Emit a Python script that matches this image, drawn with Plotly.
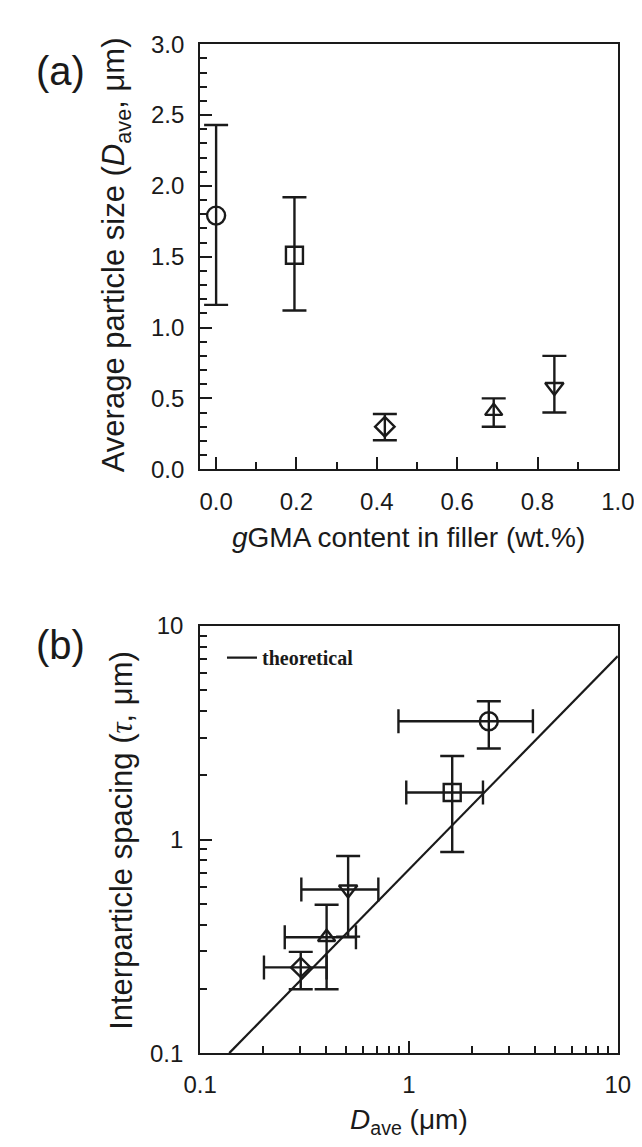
import plotly.graph_objects as go

# ---------------- Panel (a) data ----------------
gGMA_content = [0.0, 0.195, 0.42, 0.691, 0.842]
D_ave = [1.79, 1.51, 0.30, 0.41, 0.58]
D_ave_hi = [2.43, 1.92, 0.39, 0.50, 0.80]
D_ave_lo = [1.16, 1.12, 0.205, 0.30, 0.40]
symbols = ["circle-open", "square-open", "diamond-open", "triangle-up-open", "triangle-down-open"]
sizes = [18, 17, 15, 15, 16]

# ---------------- Panel (b) data ----------------
Db = [2.41, 1.61, 0.303, 0.403, 0.511]
Db_lo = [0.89, 0.97, 0.202, 0.254, 0.305]
Db_hi = [3.92, 2.26, 0.403, 0.557, 0.713]
tau = [3.58, 1.66, 0.252, 0.349, 0.584]
tau_hi = [4.44, 2.46, 0.298, 0.495, 0.838]
tau_lo = [2.67, 0.875, 0.199, 0.199, 0.351]

theory_D = [0.1377, 10.0]
theory_tau = [0.1, 7.23]

a_xticks = [0.0, 0.2, 0.4, 0.6, 0.8, 1.0]
a_yticks = [0.0, 0.5, 1.0, 1.5, 2.0, 2.5, 3.0]
b_ticks = [0.1, 1, 10]
b_ticktext = ["0.1", "1", "10"]

W, H = 642, 1147
INK = "#1a1a1a"
SANS = "Liberation Sans, Arial, sans-serif"
SERIF = "Liberation Serif, Times New Roman, serif"

fig = go.Figure()

for i in range(len(gGMA_content)):
    fig.add_trace(go.Scatter(
        x=[gGMA_content[i]], y=[D_ave[i]], mode="markers",
        marker=dict(symbol=symbols[i], size=sizes[i], color=INK, line=dict(width=2.4, color=INK)),
        error_y=dict(type="data", symmetric=False,
                     array=[D_ave_hi[i] - D_ave[i]], arrayminus=[D_ave[i] - D_ave_lo[i]],
                     color=INK, thickness=2.4, width=12),
        xaxis="x", yaxis="y", showlegend=False, cliponaxis=False))

fig.add_trace(go.Scatter(
    x=theory_D, y=theory_tau, mode="lines", name="theoretical",
    line=dict(color=INK, width=2.2), xaxis="x2", yaxis="y2", showlegend=True))

for i in range(len(Db)):
    fig.add_trace(go.Scatter(
        x=[Db[i]], y=[tau[i]], mode="markers",
        marker=dict(symbol=symbols[i], size=sizes[i], color=INK, line=dict(width=2.4, color=INK)),
        error_y=dict(type="data", symmetric=False,
                     array=[tau_hi[i] - tau[i]], arrayminus=[tau[i] - tau_lo[i]],
                     color=INK, thickness=2.4, width=12),
        error_x=dict(type="data", symmetric=False,
                     array=[Db_hi[i] - Db[i]], arrayminus=[Db[i] - Db_lo[i]],
                     color=INK, thickness=2.4, width=12),
        xaxis="x2", yaxis="y2", showlegend=False, cliponaxis=False))

x_dom = [185 / W, 626 / W]
a_dom = [1 - 458 / H, 1 - 22.7 / H]
b_dom = [1 - 1056 / H, 1 - 618.5 / H]

axis_common = dict(showline=True, linecolor=INK, linewidth=2, mirror=True,
                   ticks="inside", ticklen=12, tickwidth=2, tickcolor=INK,
                   showgrid=False, zeroline=False,
                   tickfont=dict(family=SANS, size=24, color=INK))

log_minor = [m * 10 ** e for e in (-1, 0) for m in range(2, 10)]
minor_lin = dict(dtick=0.1, ticks="inside", ticklen=7, tickwidth=2, tickcolor=INK)
minor_log = dict(tickmode="array", tickvals=log_minor, ticks="inside", ticklen=7,
                 tickwidth=2, tickcolor=INK)

fig.update_layout(
    width=W, height=H,
    margin=dict(l=0, r=0, t=0, b=0),
    paper_bgcolor="white", plot_bgcolor="white",
    xaxis=dict(domain=x_dom, anchor="y", range=[-0.0396, 1.0],
               tickmode="array", tickvals=a_xticks, ticktext=[f"{v:.1f}" for v in a_xticks],
               minor=minor_lin, ticklabelstandoff=10, **axis_common),
    yaxis=dict(domain=a_dom, anchor="x", range=[0, 3.0],
               tickmode="array", tickvals=a_yticks, ticktext=[f"{v:.1f}" for v in a_yticks],
               minor=minor_lin, ticklabelstandoff=9, **axis_common),
    xaxis2=dict(domain=x_dom, anchor="y2", type="log", range=[-1, 1],
                tickmode="array", tickvals=b_ticks, ticktext=b_ticktext,
                minor=minor_log, ticklabelstandoff=9, **axis_common),
    yaxis2=dict(domain=b_dom, anchor="x2", type="log", range=[-1, 1],
                tickmode="array", tickvals=b_ticks, ticktext=b_ticktext,
                minor=minor_log, ticklabelstandoff=10, **axis_common),
    legend=dict(x=208 / W, y=1 - 651 / H, xanchor="left", yanchor="middle",
                bgcolor="rgba(0,0,0,0)", borderwidth=0,
                font=dict(family=SERIF, size=20, color=INK, weight="bold"),
                itemwidth=30),
    showlegend=True,
)

xt_font = dict(family=SANS, size=28, color=INK)
yt_font = dict(family=SANS, size=31, color=INK)
annots = [
    dict(text="(a)", x=38 / W, y=1 - 50 / H, font=dict(family=SANS, size=40, color=INK)),
    dict(text="(b)", x=38 / W, y=1 - 638 / H, font=dict(family=SANS, size=40, color=INK)),
    dict(text="Average particle size (<i>D</i><sub>ave</sub>, \u03bcm)", x=97 / W, y=1 - 238 / H,
         textangle=-90, font=yt_font),
    dict(text="<i>g</i>GMA content in filler (wt.%)", x=405 / W, y=1 - 528 / H, font=xt_font),
    dict(text="Interparticle spacing (<span style=\"font-family:'Liberation Serif'\"><i>\u03c4</i></span>, \u03bcm)",
         x=102 / W, y=1 - 838 / H, textangle=-90, font=yt_font),
    dict(text="<i>D</i><sub>ave</sub> (\u03bcm)", x=405 / W, y=1 - 1126 / H, font=xt_font),
]
for a in annots:
    fig.add_annotation(xref="paper", yref="paper", xanchor="center", yanchor="middle",
                       showarrow=False, **a)

fig.write_html("out.html")
